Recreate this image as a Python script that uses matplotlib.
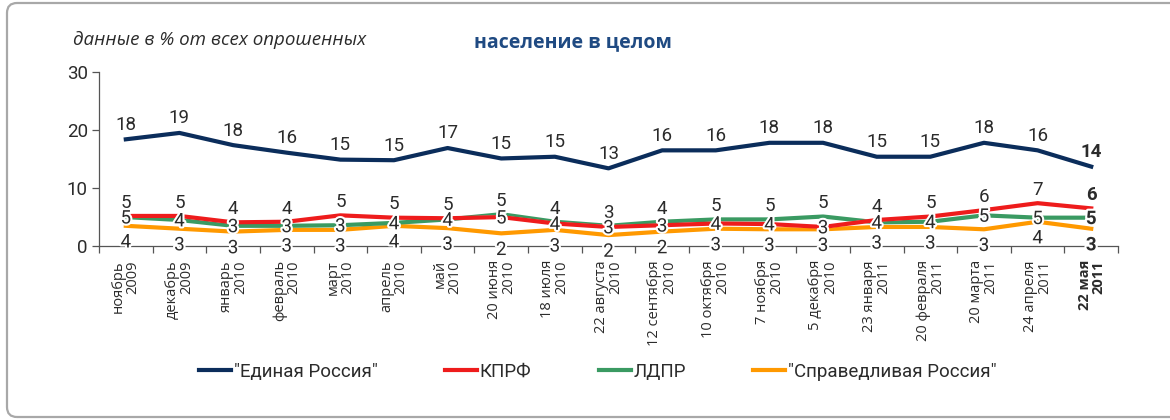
import matplotlib
matplotlib.use('Agg')
import matplotlib.pyplot as plt
import matplotlib.patheffects as pe
from matplotlib import font_manager
from matplotlib.patches import FancyBboxPatch
from matplotlib.transforms import IdentityTransform

# ---- data ----
dates = ['ноябрь\n2009', 'декабрь\n2009', 'январь\n2010', 'февраль\n2010', 'март\n2010',
         'апрель\n2010', 'май\n2010', '20 июня\n2010', '18 июля\n2010', '22 августа\n2010',
         '12 сентября\n2010', '10 октября\n2010', '7 ноября\n2010', '5 декабря\n2010',
         '23 января\n2011', '20 февраля\n2011', '20 марта\n2011', '24 апреля\n2011',
         '22 мая\n2011']

er = [18.4, 19.5, 17.4, 16.1, 14.9, 14.8, 16.9, 15.1, 15.4, 13.4,
      16.5, 16.5, 17.8, 17.8, 15.4, 15.4, 17.8, 16.5, 13.7]
er_lbl = [18, 19, 18, 16, 15, 15, 17, 15, 15, 13, 16, 16, 18, 18, 15, 15, 18, 16, 14]

kprf = [5.2, 5.2, 4.1, 4.2, 5.3, 4.9, 4.8, 5.0, 3.9, 3.3,
        3.6, 3.9, 3.8, 3.3, 4.5, 5.1, 6.2, 7.4, 6.5]
kprf_lbl = [5, 5, 4, 4, 5, 5, 5, 5, 4, 3, 3, 4, 4, 3, 4, 5, 6, 7, 6]

ldpr = [5.0, 4.5, 3.5, 3.5, 3.6, 4.0, 4.6, 5.5, 4.2, 3.5,
        4.2, 4.6, 4.6, 5.1, 4.1, 4.2, 5.3, 4.9, 4.9]
ldpr_lbl = [5, 4, 3, 3, 3, 4, 4, 5, 4, 3, 4, 5, 5, 5, 4, 4, 5, 5, 5]

sr = [3.5, 3.0, 2.5, 2.8, 2.8, 3.5, 3.1, 2.2, 2.8, 1.9,
      2.5, 3.0, 2.9, 2.9, 3.3, 3.3, 2.9, 4.2, 3.0]
sr_lbl = [4, 3, 3, 3, 3, 4, 3, 2, 3, 2, 2, 3, 3, 3, 3, 3, 3, 4, 3]

names = ['"Единая Россия"', 'КПРФ', 'ЛДПР', '"Справедливая Россия"']
colors = ['#0b2d5b', '#ee1c1c', '#3a9a62', '#ff9900']

# narrow-ish font for numbers and legend
avail = set(font_manager.get_font_names())
cond = 'Liberation Sans Narrow'
if cond not in avail:
    cond = 'Roboto' if 'Roboto' in avail else 'DejaVu Sans'

plt.rcParams['font.family'] = ['Open Sans', 'DejaVu Sans']

fig = plt.figure(figsize=(11.7, 4.2), dpi=100)
ax = fig.add_axes([0.0846, 0.414, 0.871, 0.4146])

x = list(range(len(dates)))
halo = [pe.withStroke(linewidth=2.5, foreground='white')]

ax.plot(x, er, color=colors[0], lw=3, label=names[0], solid_joinstyle='round', zorder=3)
ax.plot(x, sr, color=colors[3], lw=3, label=names[3], path_effects=halo, zorder=3)
ax.plot(x, ldpr, color=colors[2], lw=3, label=names[2], path_effects=halo, zorder=4)
ax.plot(x, kprf, color=colors[1], lw=3, label=names[1], path_effects=halo, zorder=5)

txt_c = '#2b2b2b'
fs = 13.5
white = [pe.withStroke(linewidth=3, foreground='white')]
last = len(x) - 1
for i in x:
    w = 'bold' if i == last else 'normal'
    ax.annotate(str(er_lbl[i]), (i, er[i]), xytext=(0, 10.5), textcoords='offset points',
                ha='center', va='center', fontsize=fs, color=txt_c, weight=w, family=cond)
    if kprf[i] >= ldpr[i]:
        top_v, top_l, low_v, low_l = kprf[i], kprf_lbl[i], ldpr[i], ldpr_lbl[i]
    else:
        top_v, top_l, low_v, low_l = ldpr[i], ldpr_lbl[i], kprf[i], kprf_lbl[i]
    ax.annotate(str(top_l), (i, top_v), xytext=(0, 9.5), textcoords='offset points',
                ha='center', va='center', fontsize=fs, color=txt_c, weight=w, family=cond)
    ax.annotate(str(low_l), (i, low_v), xytext=(0, -1), textcoords='offset points',
                ha='center', va='center', fontsize=fs, color=txt_c, weight=w, zorder=6,
                path_effects=white, family=cond)
    ax.annotate(str(sr_lbl[i]), (i, sr[i]), xytext=(0, -12), textcoords='offset points',
                ha='center', va='center', fontsize=fs, color=txt_c, weight=w, zorder=6,
                path_effects=white, family=cond)

# axes styling
ax.set_xlim(-0.5, len(dates) - 0.5)
ax.set_ylim(0, 30)
ax.set_yticks([0, 10, 20, 30])
ax.set_yticklabels(['0', '10', '20', '30'], fontsize=fs, color=txt_c, family=cond)
for s in ['top', 'right']:
    ax.spines[s].set_visible(False)
for s in ['left', 'bottom']:
    ax.spines[s].set_color('#555555')
    ax.spines[s].set_linewidth(0.9)
ax.tick_params(axis='y', length=5, width=0.9, color='#555555', pad=3)

ax.set_xticks(x)
ax.set_xticks([i - 0.5 for i in range(len(dates) + 1)], minor=True)
ax.tick_params(axis='x', which='major', length=0, pad=10)
ax.tick_params(axis='x', which='minor', length=5, width=0.9, color='#555555')
ax.set_xticklabels(dates, rotation=90, ha='center', va='top', multialignment='right',
                   fontsize=10.5, color=txt_c, linespacing=0.95)
ax.get_xticklabels()[-1].set_fontweight('bold')

# titles
fig.text(0.062, 0.905, 'данные в % от всех опрошенных', fontsize=13.5, style='italic',
         color=txt_c, ha='left', va='center')
fig.text(0.49, 0.9, 'население в целом', fontsize=14, weight='bold', color='#1f4a82',
         ha='center', va='center')

handles, labels = ax.get_legend_handles_labels()
order = [labels.index(n) for n in names]
leg = fig.legend([handles[k] for k in order], names, loc='center', bbox_to_anchor=(0.511, 0.115),
                 ncol=4, frameon=False, handlelength=1.7, handletextpad=0.15, columnspacing=3.6,
                 prop=dict(size=13.5, family=cond))
for t in leg.get_texts():
    t.set_color(txt_c)
for h in leg.legend_handles:
    h.set_path_effects([])

# rounded frame around the chart
fig.add_artist(FancyBboxPatch((7, 3), 1250, 414, boxstyle='round,pad=0,rounding_size=10',
                              transform=IdentityTransform(), facecolor='none',
                              edgecolor='#a8a8a8', linewidth=1.6, zorder=0))

fig.savefig('out.png', dpi=100)
